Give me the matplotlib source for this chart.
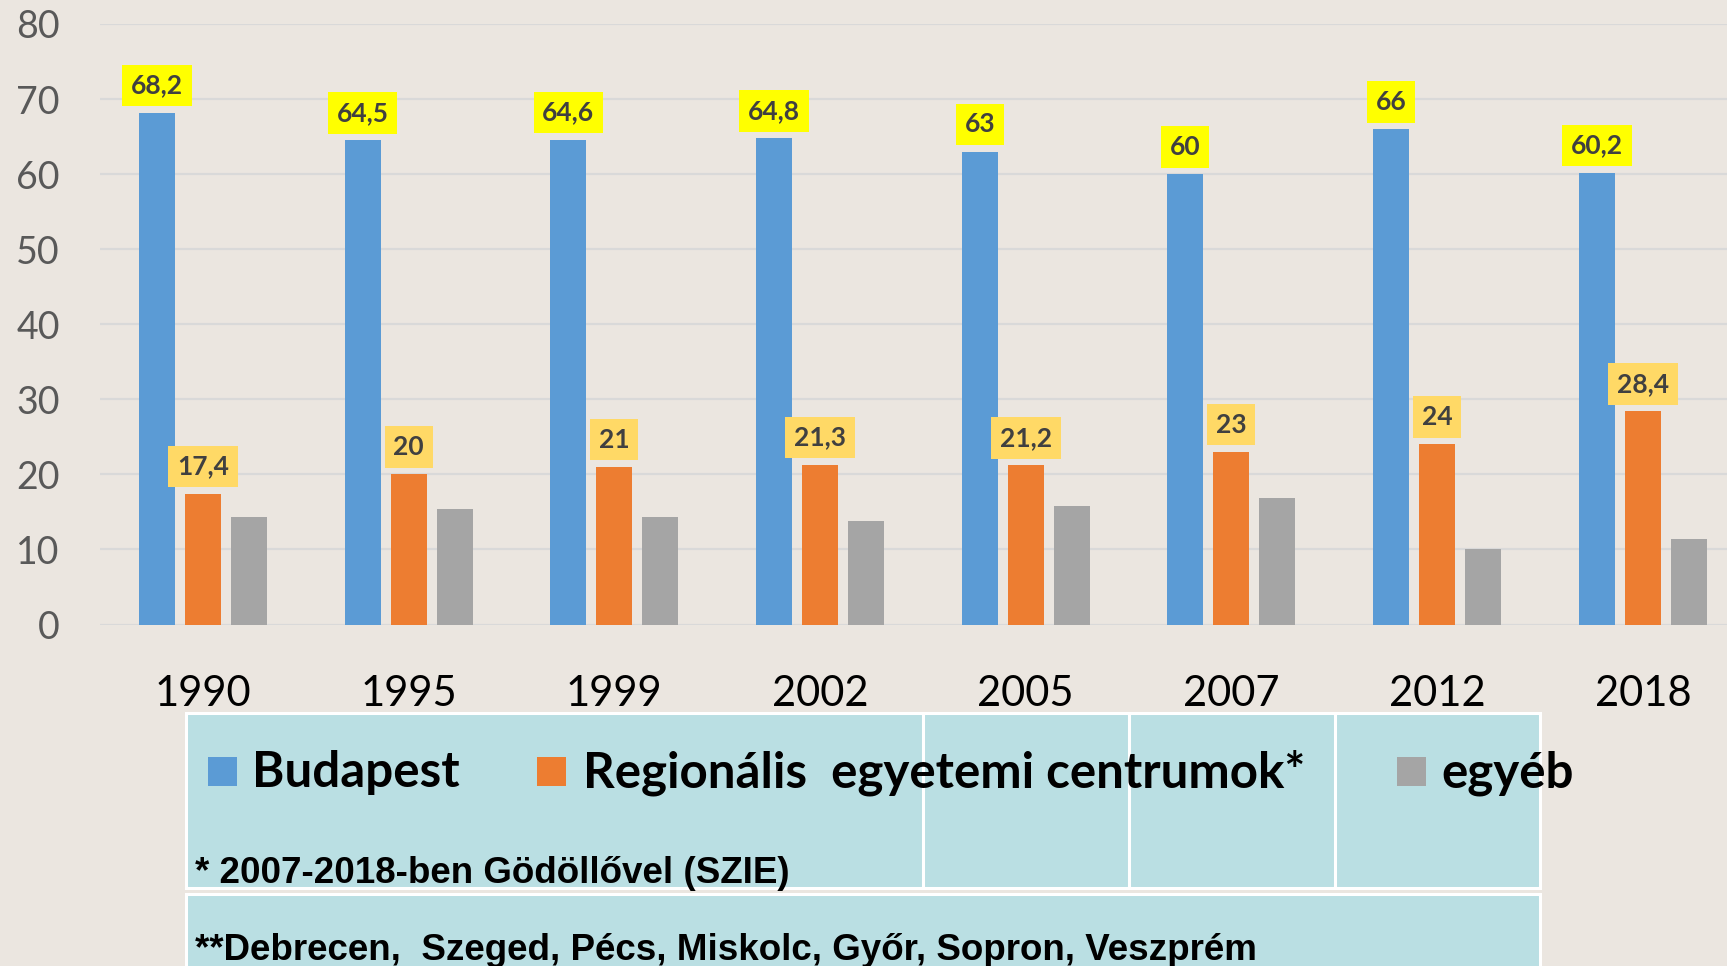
import numpy as np
import matplotlib.pyplot as plt
from matplotlib.patches import Rectangle

years = ['1990', '1995', '1999', '2002', '2005', '2007', '2012', '2018']
budapest = [68.2, 64.5, 64.6, 64.8, 63, 60, 66, 60.2]
regionalis = [17.4, 20, 21, 21.3, 21.2, 23, 24, 28.4]
egyeb = [14.3, 15.4, 14.3, 13.8, 15.8, 16.9, 10.0, 11.4]

series_names = ['Budapest', 'Regionális  egyetemi centrumok*', 'egyéb']
note1 = '* 2007-2018-ben Gödöllővel (SZIE)'
note2 = '**Debrecen,  Szeged, Pécs, Miskolc, Győr, Sopron, Veszprém'

blue = '#5B9BD5'
orange = '#ED7D31'
gray = '#A5A5A5'
bg = '#EBE6E0'
cell = '#BADFE3'

plt.rcParams['font.family'] = ['Lato', 'DejaVu Sans']

W, H = 1727, 966
fig = plt.figure(figsize=(W / 100, H / 100), dpi=100, facecolor=bg)

ax = fig.add_axes([100 / W, (H - 624.5) / H, 1 - 100 / W, (624.5 - 24) / H])
ax.set_facecolor(bg)

x = np.arange(len(years))
w = 0.175
step = 0.2236
b1 = ax.bar(x - step, budapest, w, color=blue, zorder=3)
b2 = ax.bar(x, regionalis, w, color=orange, zorder=3)
b3 = ax.bar(x + step, egyeb, w, color=gray, zorder=3)

def fmt(v):
    return f'{v:g}'.replace('.', ',')

for bars, vals, box in [(b1, budapest, '#FFFF00'), (b2, regionalis, '#FFD966')]:
    for r, v in zip(bars, vals):
        ax.annotate(fmt(v), (r.get_x() + r.get_width() / 2, v),
                    xytext=(0, 11), textcoords='offset points',
                    ha='center', va='bottom', fontsize=19, fontweight='bold',
                    color='#404040', zorder=5,
                    bbox=dict(boxstyle='square,pad=0.33', fc=box, ec='none'))

ax.set_xlim(-0.5, (W - 203) / 205.7)
ax.set_ylim(0, 80)
ax.set_yticks(range(0, 81, 10))
ax.set_xticks(x)
ax.set_xticklabels(years)
ax.tick_params(axis='y', length=0, pad=29, labelsize=27, labelcolor='#595959')
ax.tick_params(axis='x', length=0, pad=36, labelsize=30, labelcolor='black')
ax.grid(axis='y', color='#D9D9D9', linewidth=1.6, zorder=0)
for s in ax.spines.values():
    s.set_visible(False)

# legend / footnote table drawn in pixel coordinates
lax = fig.add_axes([0, 0, 1, 1])
lax.set_xlim(0, W)
lax.set_ylim(H, 0)
lax.axis('off')
lax.patch.set_alpha(0)

row1 = [(186, 923), (923, 1129), (1129, 1335), (1335, 1540)]
for x0, x1 in row1:
    lax.add_patch(Rectangle((x0, 712.6), x1 - x0, 888 - 712.6,
                            fc=cell, ec='white', lw=2.2))
lax.add_patch(Rectangle((186, 894), 1540 - 186, 90, fc=cell, ec='white', lw=2.2))

leg_x = [(208, 252), (537.5, 582.6), (1396.6, 1441.7)]
for (sx, tx), name, c in zip(leg_x, series_names, [blue, orange, gray]):
    lax.add_patch(Rectangle((sx, 757), 29, 29, fc=c, ec='none'))
    lax.text(tx, 787, name, fontsize=35.5, fontweight='bold', color='black',
             ha='left', va='baseline')

lax.text(195, 883, note1, fontsize=26.5, fontweight='bold',
         family='Liberation Sans', color='black', ha='left', va='baseline')
lax.text(195, 960, note2, fontsize=26.5, fontweight='bold',
         family='Liberation Sans', color='black', ha='left', va='baseline')

fig.savefig('out.png', dpi=100, facecolor=bg)
